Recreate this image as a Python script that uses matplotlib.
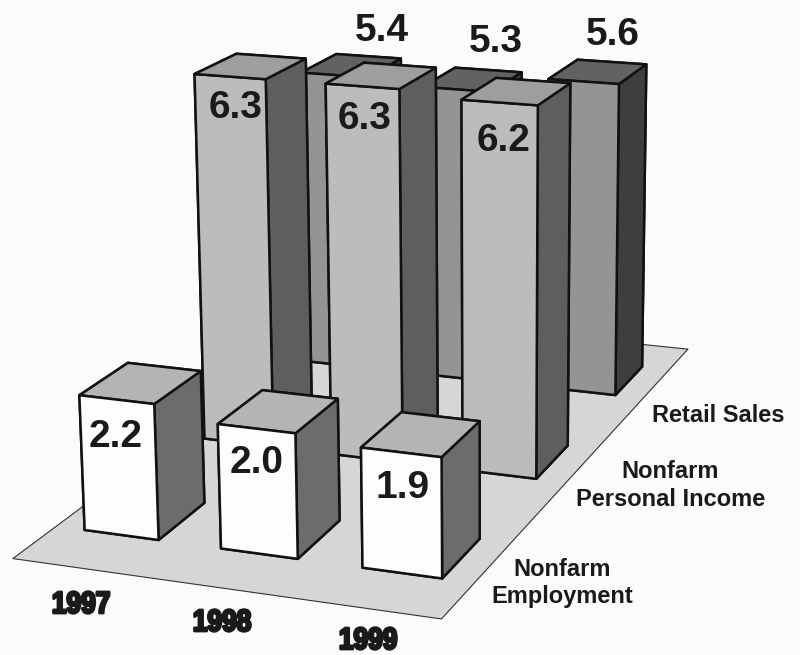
import matplotlib
matplotlib.use('Agg')
import matplotlib.pyplot as plt
import matplotlib.patheffects as pe
from matplotlib.transforms import Affine2D
from mpl_toolkits.mplot3d.art3d import Poly3DCollection

years = ['1997', '1998', '1999']
employment = [2.2, 2.0, 1.9]
income = [6.3, 6.3, 6.2]
retail = [5.4, 5.3, 5.6]
rows = [employment, income, retail]

W, H = 800, 655
plt.rcParams['font.family'] = ['Liberation Sans', 'DejaVu Sans']

# camera and bar layout, fitted against the picture
elev, azim, roll, focal = 14.9809, -68.7911, 0.6164, 0.5340
aspect = (1, 1.8673, 1.1380)
x0, dx, bar_w, y0, dy, bar_d = 0.2661, 0.9870, 0.5399, 0.3038, 1.0283, 0.3885
s, cx, cy = 5397.8, 377.2, 213.7

fig = plt.figure(figsize=(8, 6.55), dpi=100, facecolor='#fbfbfb')
L = s * 0.185
ax = fig.add_axes([(cx - s * 0.095) / W, (H - cy - s * 0.095) / H, L / W, L / H], projection='3d')
ax.set_xlim(0, 3)
ax.set_ylim(0, 3)
ax.set_zlim(0, 8)
ax.view_init(elev, azim, roll)
ax.set_proj_type('persp', focal_length=focal)
ax.set_box_aspect(aspect)
ax.set_axis_off()
ax.patch.set_alpha(0)
ax.computed_zorder = False

fx0, fx1, fy0, fy1 = 0.05, 2.99, -0.02, 3.05
floor = [[(fx0, fy0, 0), (fx1, fy0, 0), (fx1, fy1, 0), (fx0, fy1, 0)]]
ax.add_collection3d(Poly3DCollection(floor, facecolor='#d6d6d6', edgecolor='#333333', linewidth=0.8, zorder=1))

front = ['#fdfdfd', '#bcbcbc', '#949494']
top = ['#b4b4b4', '#9e9e9e', '#626262']
side = ['#6c6c6c', '#5e5e5e', '#3e3e3e']
z = 2
for j in [2, 1, 0]:
    for i in range(3):
        cols = [front[j], top[j], front[j], front[j], side[j], side[j]]
        ax.bar3d(x0 + i * dx, y0 + j * dy, 0, bar_w, bar_d, rows[j][i], color=cols,
                 edgecolor='#111111', linewidth=1.8, shade=False, zorder=z)
        z += 1

def put(x, y, txt, **kw):
    return fig.text(x / W, 1 - y / H, txt, ha='center', va='center', color='#1a1a1a', **kw)

# squeezes the year labels sideways, no condensed heavy font is installed
class Narrow(pe.AbstractPathEffect):
    def __init__(self, xc, k, lw):
        super().__init__()
        self.xc, self.k, self.lw = xc, k, lw

    def draw_path(self, renderer, gc, tpath, affine, rgbFace):
        a = affine + Affine2D().translate(-self.xc, 0).scale(self.k, 1).translate(self.xc, 0)
        gc0 = renderer.new_gc()
        gc0.copy_properties(gc)
        gc0.set_linewidth(self.lw)
        gc0.set_foreground('#1a1a1a')
        renderer.draw_path(gc0, tpath, a, rgbFace)
        gc0.restore()

# value labels, row by row
label_xy = [[(116, 437), (257, 463), (403, 488)],
            [(236, 108), (365, 119), (504, 141)],
            [(382, 31), (496, 42), (613, 35)]]
for j in range(3):
    for i in range(3):
        x, y = label_xy[j][i]
        put(x, y, '%.1f' % rows[j][i], fontsize=28, fontweight='bold', zorder=40)

year_xy = [(81, 605), (222, 623), (368, 641)]
for (x, y), yr in zip(year_xy, years):
    t = put(x, y, yr, fontsize=22, fontweight='bold', zorder=40)
    t.set_path_effects([Narrow(x, 0.86, 2.0)])

put(718, 416, 'Retail Sales', fontsize=17, fontweight='bold')
put(670, 472, 'Nonfarm', fontsize=17, fontweight='bold')
put(671, 499, 'Personal Income', fontsize=17, fontweight='bold')
put(562, 570, 'Nonfarm', fontsize=17, fontweight='bold')
put(562, 597, 'Employment', fontsize=17, fontweight='bold')

fig.savefig('out.png', dpi=100, facecolor=fig.get_facecolor())
